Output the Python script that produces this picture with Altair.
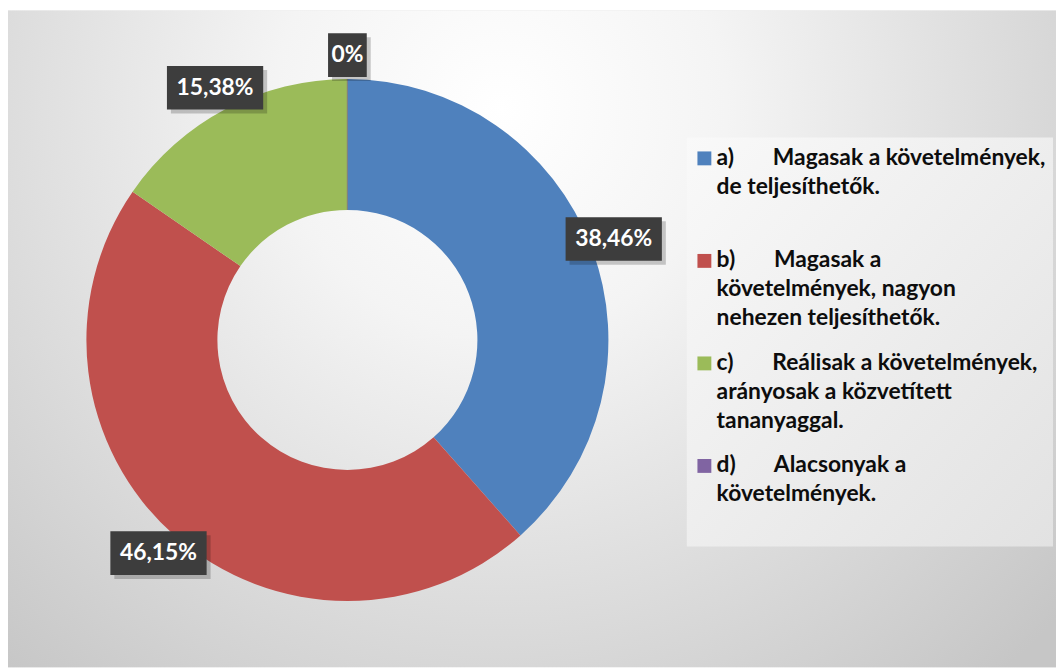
import altair as alt
import pandas as pd

# ---- data ----
categories = ["a)", "b)", "c)", "d)"]
values = [38.46, 46.15, 15.38, 0.0]
value_labels = ["38,46%", "46,15%", "15,38%", "0%"]
legend_lines = [
    ["Magasak a követelmények,", "de teljesíthetők."],
    ["Magasak a", "követelmények, nagyon", "nehezen teljesíthetők."],
    ["Reálisak a követelmények,", "arányosak a közvetített", "tananyaggal."],
    ["Alacsonyak a", "követelmények."],
]
colors = ["#4F81BD", "#C0504D", "#9BBB59", "#8064A2"]

NB = "\u00a0"
legend_texts = [
    c + NB * 7 + lines[0] + ("\n" + "\n".join(lines[1:]) if len(lines) > 1 else "")
    for c, lines in zip(categories, legend_lines)
]

df = pd.DataFrame({
    "cat": categories,
    "value": values,
    "label": value_labels,
    "legend": legend_texts,
    "idx": list(range(len(categories))),
})

W, H = 1056, 662
CX, CY = 342, 332
R_OUT, R_IN = 263, 131
R_LAB = 287
FONT = "Lato"

base = alt.Chart(df)

bg = alt.Chart(pd.DataFrame({"k": [0]})).mark_rect(
    color=alt.RadialGradient(
        gradient="radial",
        stops=[
            alt.GradientStop(offset=0, color="#ffffff"),
            alt.GradientStop(offset=0.3, color="#f4f4f4"),
            alt.GradientStop(offset=1, color="#c6c6c6"),
        ],
        x1=0.47, y1=0.28, r1=0, x2=0.47, y2=0.28, r2=0.72,
    )
).encode(x=alt.value(0), x2=alt.value(W), y=alt.value(0), y2=alt.value(H))

arcs = base.mark_arc(innerRadius=R_IN, outerRadius=R_OUT, stroke="#808080").encode(
    theta=alt.Theta("value:Q", stack=True),
    color=alt.Color("cat:N", scale=alt.Scale(domain=categories, range=colors), legend=None),
    order=alt.Order("idx:Q"),
    strokeWidth=alt.condition("datum.value == 0", alt.value(1.2), alt.value(0)),
    x=alt.value(CX),
    y=alt.value(CY),
)

lab_base = base.transform_joinaggregate(total="sum(value)").transform_window(
    cum="sum(value)", sort=[alt.SortField("idx")], frame=[None, 0]
).transform_calculate(
    mid="(datum.cum - datum.value/2) / datum.total * 2 * PI",
).transform_calculate(
    lx=f"{CX} + {R_LAB} * sin(datum.mid)",
    ly=f"{CY} - {R_LAB} * cos(datum.mid)",
    bw="14.5 * length(datum.label) + 10",
).transform_calculate(
    bx0="datum.lx - datum.bw/2",
    bx1="datum.lx + datum.bw/2",
    by0="datum.ly - 22",
    by1="datum.ly + 22",
    sx0="datum.lx - datum.bw/2 + 4",
    sx1="datum.lx + datum.bw/2 + 4",
    sy0="datum.ly - 22 + 4",
    sy1="datum.ly + 22 + 4",
)

shadow = lab_base.mark_rect(color="#000000", opacity=0.2).encode(
    x=alt.X("sx0:Q", scale=None, axis=None), x2="sx1:Q",
    y=alt.Y("sy0:Q", scale=None, axis=None), y2="sy1:Q",
)
boxes = lab_base.mark_rect(color="#3d3d3d").encode(
    x=alt.X("bx0:Q", scale=None, axis=None), x2="bx1:Q",
    y=alt.Y("by0:Q", scale=None, axis=None), y2="by1:Q",
)
texts = lab_base.mark_text(
    font=FONT, fontSize=23, fontWeight="bold", color="#ffffff",
    align="center", baseline="middle",
).encode(
    x=alt.X("lx:Q", scale=None, axis=None),
    y=alt.Y("ly:Q", scale=None, axis=None),
    text="label:N",
)

leg_box = alt.Chart(pd.DataFrame({"k": [0]})).mark_rect(
    color=alt.LinearGradient(
        gradient="linear",
        stops=[
            alt.GradientStop(offset=0, color="#f9f9f9"),
            alt.GradientStop(offset=1, color="#e2e2e2"),
        ],
        x1=0, y1=0, x2=1, y2=1,
    )
).encode(x=alt.value(684), x2=alt.value(1053), y=alt.value(128), y2=alt.value(540))

leg_sym = base.transform_calculate(sy="149 + datum.idx * 103.3").mark_square(
    size=196, opacity=1, strokeWidth=0
).encode(
    x=alt.value(701.7),
    y=alt.Y("sy:Q", scale=None, axis=None),
    color=alt.Color("cat:N", scale=alt.Scale(domain=categories, range=colors), legend=None),
)

leg_txt = base.transform_calculate(ty="155.5 + datum.idx * 103.3").mark_text(
    font=FONT, fontSize=23, fontWeight="bold", color="#0d0d0d",
    align="left", baseline="alphabetic", lineBreak="\n", lineHeight=29.3,
).encode(
    x=alt.value(714),
    y=alt.Y("ty:Q", scale=None, axis=None),
    text="legend:N",
)

chart = alt.layer(
    bg, arcs, shadow, boxes, texts, leg_box, leg_sym, leg_txt
).resolve_scale(x="independent", y="independent").properties(
    width=W, height=H, padding=0, autosize=alt.AutoSizeParams(type="none"),
    background="#ffffff",
).configure_view(stroke=None)

chart.save("out.html", embed_options={"renderer": "svg", "actions": False})
